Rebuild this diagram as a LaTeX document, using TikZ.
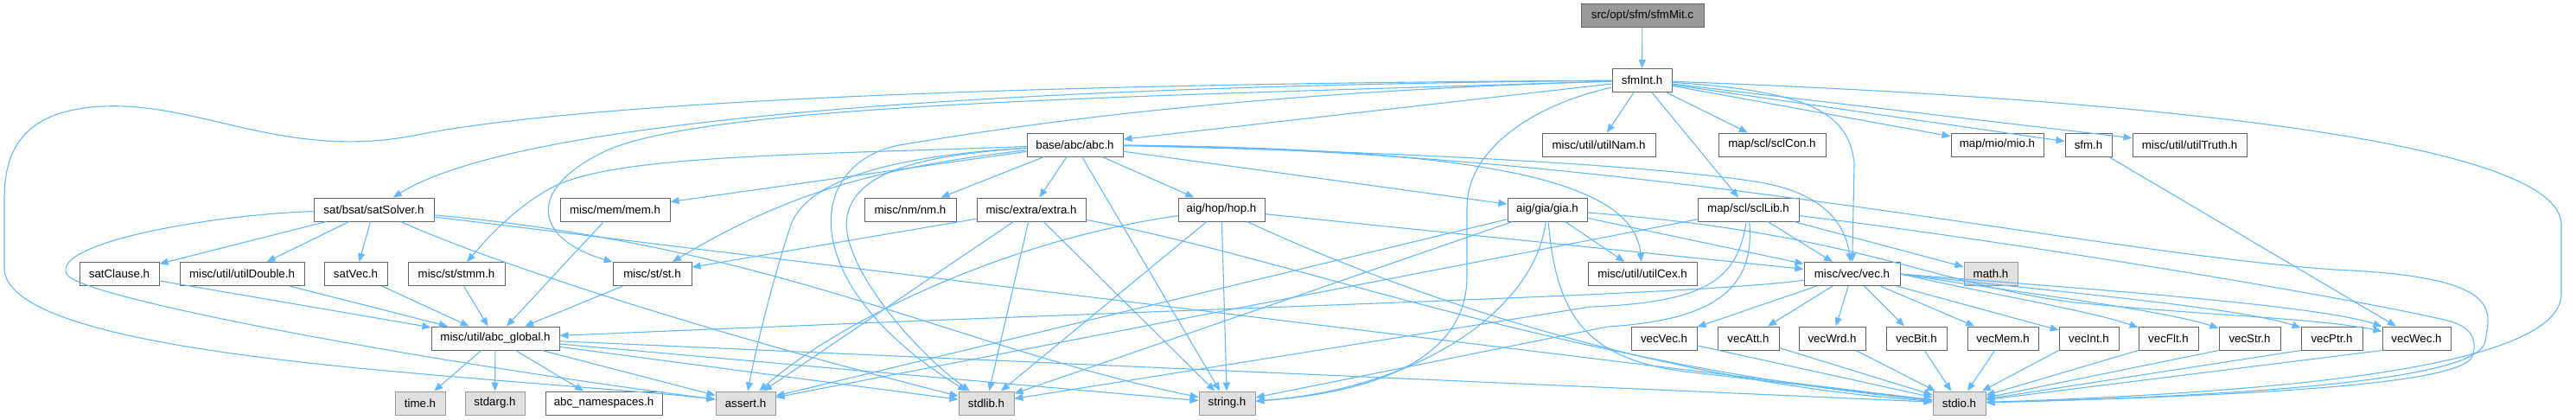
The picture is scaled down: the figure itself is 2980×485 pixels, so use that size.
\documentclass[tikz,border=0pt]{standalone}
\usepackage{fontspec}
\setmainfont{Liberation Sans}
\usetikzlibrary{arrows.meta}
\definecolor{edgeblue}{HTML}{63B8FF}
\definecolor{boxgray}{HTML}{666666}
\definecolor{sysgray}{HTML}{999999}
\definecolor{sysfill}{HTML}{E0E0E0}
\definecolor{rootfill}{HTML}{999999}

\begin{document}
\begin{tikzpicture}[x=1pt, y=-1pt,
    hfile/.style={rectangle, draw=boxgray, fill=white, line width=1pt,
      minimum height=27pt, inner xsep=2pt, inner ysep=0pt,
      font=\fontsize{13.3}{15}\selectfont},
    sysfile/.style={hfile, draw=sysgray, fill=sysfill},
    rootfile/.style={hfile, fill=rootfill},
    dep/.style={draw=edgeblue, line width=1.1pt, -{Triangle[length=10pt, width=8pt]}}]
    % Filas del grafo (en px, y hacia abajo)
    \def\rowA{18.3}
    \def\rowB{93}
    \def\rowC{167.5}
    \def\rowD{242.5}
    \def\rowE{317}
    \def\rowF{391.5}
    \def\rowG{466.5}

    \useasboundingbox (0,0) rectangle (2980,485);

    % Fichero raiz
    \node[rootfile, minimum width=142pt] (mit) at (1900,\rowA) {src/opt/sfm/sfmMit.c};
    \node[hfile, minimum width=69pt] (sfmInt) at (1899.5,\rowB) {sfmInt.h};

    % Tercera fila
    \node[hfile, minimum width=111pt] (abc) at (1243.5,\rowC) {base/abc/abc.h};
    \node[hfile, minimum width=131pt] (utilNam) at (1849.5,\rowC) {misc/util/utilNam.h};
    \node[hfile, minimum width=124pt] (sclCon) at (2050,\rowC) {map/scl/sclCon.h};
    \node[hfile, minimum width=107pt] (mio) at (2310.5,\rowC) {map/mio/mio.h};
    \node[hfile, minimum width=54pt] (sfm) at (2416,\rowC) {sfm.h};
    \node[hfile, minimum width=132pt] (utilTruth) at (2533,\rowC) {misc/util/utilTruth.h};

    % Cuarta fila
    \node[hfile, minimum width=139pt] (satSolver) at (432.5,\rowD) {sat/bsat/satSolver.h};
    \node[hfile, minimum width=127pt] (mem) at (711.5,\rowD) {misc/mem/mem.h};
    \node[hfile, minimum width=106pt] (nm) at (1053,\rowD) {misc/nm/nm.h};
    \node[hfile, minimum width=126pt] (extra) at (1193,\rowD) {misc/extra/extra.h};
    \node[hfile, minimum width=100pt] (hop) at (1413,\rowD) {aig/hop/hop.h};
    \node[hfile, minimum width=92pt] (gia) at (1790,\rowD) {aig/gia/gia.h};
    \node[hfile, minimum width=117pt] (sclLib) at (2022.5,\rowD) {map/scl/sclLib.h};

    % Quinta fila
    \node[hfile, minimum width=92pt] (satClause) at (138,\rowE) {satClause.h};
    \node[hfile, minimum width=144pt] (utilDouble) at (280,\rowE) {misc/util/utilDouble.h};
    \node[hfile, minimum width=73pt] (satVec) at (411.5,\rowE) {satVec.h};
    \node[hfile, minimum width=112pt] (stmm) at (528,\rowE) {misc/st/stmm.h};
    \node[hfile, minimum width=91pt] (st) at (754.5,\rowE) {misc/st/st.h};
    \node[hfile, minimum width=126pt] (utilCex) at (1900,\rowE) {misc/util/utilCex.h};
    \node[hfile, minimum width=111pt] (vec) at (2142.5,\rowE) {misc/vec/vec.h};
    \node[sysfile, minimum width=62pt] (math) at (2303,\rowE) {math.h};

    % Sexta fila
    \node[hfile, minimum width=148pt] (abcGlobal) at (573,\rowF) {misc/util/abc\_global.h};
    \node[hfile, minimum width=76pt] (vecVec) at (1925,\rowF) {vecVec.h};
    \node[hfile, minimum width=71pt] (vecAtt) at (2022.5,\rowF) {vecAtt.h};
    \node[hfile, minimum width=77pt] (vecWrd) at (2119.5,\rowF) {vecWrd.h};
    \node[hfile, minimum width=70pt] (vecBit) at (2217,\rowF) {vecBit.h};
    \node[hfile, minimum width=82pt] (vecMem) at (2317,\rowF) {vecMem.h};
    \node[hfile, minimum width=69pt] (vecInt) at (2416.5,\rowF) {vecInt.h};
    \node[hfile, minimum width=69pt] (vecFlt) at (2508.5,\rowF) {vecFlt.h};
    \node[hfile, minimum width=71pt] (vecStr) at (2602.5,\rowF) {vecStr.h};
    \node[hfile, minimum width=71pt] (vecPtr) at (2697.5,\rowF) {vecPtr.h};
    \node[hfile, minimum width=79pt] (vecWec) at (2795.5,\rowF) {vecWec.h};

    % Cabeceras del sistema (ultima fila)
    \node[sysfile, minimum width=58pt] (time) at (486,\rowG) {time.h};
    \node[sysfile, minimum width=69pt] (stdarg) at (572.5,\rowG) {stdarg.h};
    \node[hfile, minimum width=135pt] (namespaces) at (698.5,\rowG) {abc\_namespaces.h};
    \node[sysfile, minimum width=69pt] (assert) at (862.5,\rowG) {assert.h};
    \node[sysfile, minimum width=64pt] (stdlib) at (1141,\rowG) {stdlib.h};
    \node[sysfile, minimum width=65pt] (string) at (1419.5,\rowG) {string.h};
    \node[sysfile, minimum width=61pt] (stdio) at (2266.5,\rowG) {stdio.h};

    % sfmMit.c y sfmInt.h
    \draw[dep] (mit) -- (sfmInt);
    \draw[dep] (sfmInt) -- (abc);
    \draw[dep] (sfmInt) .. controls (1300,98) and (620,125) .. (satSolver);
    \draw[dep] (sfmInt) .. controls (1300,96) and (700,112) .. (478,157)
        .. controls (330,185) and (230,118) .. (120,123)
        .. controls (30,127) and (5,170) .. (5,230) -- (5,310)
        .. controls (5,380) and (250,412) .. (480,432)
        .. controls (650,447) and (760,454) .. (assert);
    \draw[dep] (sfmInt) .. controls (1300,112) and (820,120) .. (700,175)
        .. controls (610,218) and (615,275) .. (st);
    \draw[dep] (sfmInt) .. controls (1400,108) and (1150,150) .. (1040,168)
        .. controls (930,190) and (920,330) .. (stdlib);
    \draw[dep] (sfmInt) .. controls (1760,125) and (1697,180) .. (1697,240) -- (1697,320)
        .. controls (1697,420) and (1580,455) .. (string);
    \draw[dep] (sfmInt) -- (utilNam);
    \draw[dep] (sfmInt) -- (sclCon);
    \draw[dep] (sfmInt) -- (sclLib);
    \draw[dep] (sfmInt) .. controls (2080,105) and (2140,125) .. (2145,190) -- (vec);
    \draw[dep] (sfmInt) -- (mio);
    \draw[dep] (sfmInt) -- (sfm);
    \draw[dep] (sfmInt) -- (utilTruth);
    \draw[dep] (sfmInt) .. controls (2500,115) and (2963,165) .. (2963,260) -- (2963,340)
        .. controls (2963,430) and (2600,455) .. (stdio);

    % base/abc/abc.h
    \draw[dep] (abc) -- (hop);
    \draw[dep] (abc) -- (gia);
    \draw[dep] (abc) -- (nm);
    \draw[dep] (abc) -- (extra);
    \draw[dep] (abc) -- (mem);
    \draw[dep] (abc) .. controls (1000,195) and (900,230) .. (st);
    \draw[dep] (abc) .. controls (900,180) and (700,180) .. (633,220)
        .. controls (590,245) and (560,280) .. (stmm);
    \draw[dep] (abc) .. controls (1700,172) and (1890,205) .. (utilCex);
    \draw[dep] (abc) .. controls (1600,175) and (1900,190) .. (2030,210)
        .. controls (2110,222) and (2135,260) .. (vec);
    \draw[dep] (abc) .. controls (1060,180) and (990,200) .. (980,250)
        .. controls (970,300) and (1050,400) .. (stdlib);
    \draw[dep] (abc) .. controls (1080,178) and (940,195) .. (915,260)
        .. controls (895,320) and (875,400) .. (assert);
    \draw[dep] (abc) -- (string);
    \draw[dep] (abc) .. controls (1900,175) and (2400,290) .. (2700,312)
        .. controls (2900,320) and (2880,360) .. (2875,395)
        .. controls (2868,440) and (2600,458) .. (stdio);

    % aig/hop/hop.h y misc/extra/extra.h
    \draw[dep] (hop) .. controls (1150,280) and (960,380) .. (assert);
    \draw[dep] (hop) -- (stdlib);
    \draw[dep] (hop) -- (string);
    \draw[dep] (hop) -- (vec);
    \draw[dep] (hop) .. controls (1600,330) and (1900,440) .. (stdio);
    \draw[dep] (extra) -- (st);
    \draw[dep] (extra) -- (assert);
    \draw[dep] (extra) -- (stdlib);
    \draw[dep] (extra) -- (string);
    \draw[dep] (extra) .. controls (1500,300) and (1800,420) .. (stdio);

    % aig/gia/gia.h
    \draw[dep] (gia) -- (utilCex);
    \draw[dep] (gia) -- (vec);
    \draw[dep] (gia) .. controls (2150,270) and (2240,330) .. (2400,350)
        .. controls (2550,365) and (2680,368) .. (vecWec);
    \draw[dep] (gia) -- (assert);
    \draw[dep] (gia) -- (stdlib);
    \draw[dep] (gia) .. controls (1775,360) and (1640,450) .. (string);
    \draw[dep] (gia) .. controls (1800,360) and (1830,415) .. (1950,430) -- (stdio);

    % map/scl/sclLib.h
    \draw[dep] (sclLib) -- (vec);
    \draw[dep] (sclLib) -- (math);
    \draw[dep] (sclLib) -- (assert);
    \draw[dep] (sclLib) .. controls (2010,320) and (1980,350) .. (1840,355) -- (stdlib);
    \draw[dep] (sclLib) .. controls (2030,330) and (1990,370) .. (1860,378) -- (string);
    \draw[dep] (sclLib) .. controls (2350,282) and (2760,352) .. (2835,372)
        .. controls (2860,379) and (2866,395) .. (2860,412)
        .. controls (2850,445) and (2600,458) .. (stdio);

    % sat/bsat/satSolver.h
    \draw[dep] (satSolver) -- (satClause);
    \draw[dep] (satSolver) -- (utilDouble);
    \draw[dep] (satSolver) -- (satVec);
    \draw[dep] (satSolver) .. controls (250,248) and (60,280) .. (77,317)
        .. controls (90,345) and (500,420) .. (assert);
    \draw[dep] (satSolver) .. controls (560,300) and (800,380) .. (stdlib);
    \draw[dep] (satSolver) .. controls (900,285) and (1100,400) .. (string);
    \draw[dep] (satSolver) -- (stdio);

    % hacia misc/util/abc_global.h
    \draw[dep] (satClause) -- (abcGlobal);
    \draw[dep] (utilDouble) -- (abcGlobal);
    \draw[dep] (satVec) -- (abcGlobal);
    \draw[dep] (stmm) -- (abcGlobal);
    \draw[dep] (mem) -- (abcGlobal);
    \draw[dep] (st) -- (abcGlobal);
    \draw[dep] (vec) .. controls (1950,342) and (1500,352) .. (abcGlobal);

    % misc/util/abc_global.h
    \draw[dep] (abcGlobal) -- (time);
    \draw[dep] (abcGlobal) -- (stdarg);
    \draw[dep] (abcGlobal) -- (namespaces);
    \draw[dep] (abcGlobal) -- (assert);
    \draw[dep] (abcGlobal) -- (stdlib);
    \draw[dep] (abcGlobal) -- (string);
    \draw[dep] (abcGlobal) -- (stdio);

    % misc/vec/vec.h
    \draw[dep] (vec) -- (vecVec);
    \draw[dep] (vec) -- (vecAtt);
    \draw[dep] (vec) -- (vecWrd);
    \draw[dep] (vec) -- (vecBit);
    \draw[dep] (vec) -- (vecMem);
    \draw[dep] (vec) -- (vecInt);
    \draw[dep] (vec.east) .. controls (2300,340) and (2420,360) .. (vecFlt);
    \draw[dep] (vec.east) .. controls (2330,338) and (2500,358) .. (vecStr);
    \draw[dep] (vec.east) .. controls (2350,335) and (2590,355) .. (vecPtr);
    \draw[dep] (vec.east) .. controls (2380,332) and (2680,352) .. (vecWec);
    \draw[dep] (sfm) -- (vecWec);

    % vecXxx.h hacia stdio.h
    \draw[dep] (vecVec) -- (stdio);
    \draw[dep] (vecAtt) -- (stdio);
    \draw[dep] (vecWrd) -- (stdio);
    \draw[dep] (vecBit) -- (stdio);
    \draw[dep] (vecMem) -- (stdio);
    \draw[dep] (vecInt.south west) -- (stdio);
    \draw[dep] (vecFlt.south west) -- (stdio);
    \draw[dep] (vecStr.south west) -- (stdio);
    \draw[dep] (vecPtr.south west) -- (stdio);
    \draw[dep] (vecWec.south west) -- (stdio);
\end{tikzpicture}
\end{document}
